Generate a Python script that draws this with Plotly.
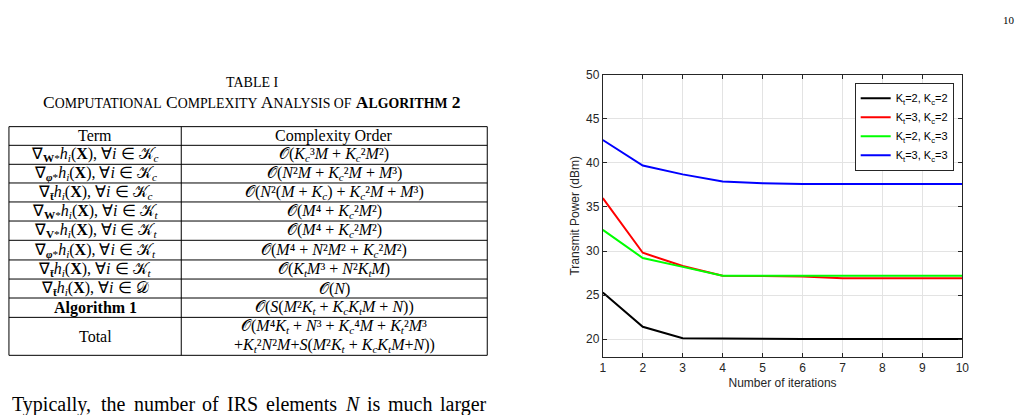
import plotly.graph_objects as go

# ---------------- data ----------------
iterations = [1, 2, 3, 4, 5, 6, 7, 8, 9, 10]
p_kt2_kc2 = [25.3, 21.4, 20.1, 20.1, 20.05, 20.0, 20.0, 20.0, 20.0, 20.0]
p_kt3_kc2 = [36.0, 29.8, 28.3, 27.2, 27.15, 27.1, 26.9, 26.9, 26.9, 26.9]
p_kt2_kc3 = [32.4, 29.2, 28.2, 27.2, 27.2, 27.2, 27.2, 27.2, 27.2, 27.2]
p_kt3_kc3 = [42.6, 39.7, 38.7, 37.9, 37.7, 37.6, 37.6, 37.6, 37.6, 37.6]
series_names = ["K<sub>t</sub>=2, K<sub>c</sub>=2", "K<sub>t</sub>=3, K<sub>c</sub>=2",
                "K<sub>t</sub>=2, K<sub>c</sub>=3", "K<sub>t</sub>=3, K<sub>c</sub>=3"]
series_colors = ["#000000", "#ff0000", "#00ff00", "#0000ff"]
y_ticks = [20, 25, 30, 35, 40, 45, 50]

table_terms = [
    "Term",
    "∇<sub><b>W</b>*</sub><i>h<sub>i</sub></i>(<b>X</b>), ∀<i>i</i> ∈ 𝒦<sub><i>c</i></sub>",
    "∇<sub><b><i>φ</i></b>*</sub><i>h<sub>i</sub></i>(<b>X</b>), ∀<i>i</i> ∈ 𝒦<sub><i>c</i></sub>",
    "∇<sub><b>t̄</b></sub><i>h<sub>i</sub></i>(<b>X</b>), ∀<i>i</i> ∈ 𝒦<sub><i>c</i></sub>",
    "∇<sub><b>W</b>*</sub><i>h<sub>i</sub></i>(<b>X</b>), ∀<i>i</i> ∈ 𝒦<sub><i>t</i></sub>",
    "∇<sub><b>V</b>*</sub><i>h<sub>i</sub></i>(<b>X</b>), ∀<i>i</i> ∈ 𝒦<sub><i>t</i></sub>",
    "∇<sub><b><i>φ</i></b>*</sub><i>h<sub>i</sub></i>(<b>X</b>), ∀<i>i</i> ∈ 𝒦<sub><i>t</i></sub>",
    "∇<sub><b>t̄</b></sub><i>h<sub>i</sub></i>(<b>X</b>), ∀<i>i</i> ∈ 𝒦<sub><i>t</i></sub>",
    "∇<sub><b>t̄</b></sub><i>h<sub>i</sub></i>(<b>X</b>), ∀<i>i</i> ∈ 𝒟",
    "<b>Algorithm 1</b>",
    "Total",
]
table_orders = [
    "Complexity Order",
    "𝒪(<i>K<sub>c</sub></i>³<i>M</i> + <i>K<sub>c</sub></i>²<i>M</i>²)",
    "𝒪(<i>N</i>²<i>M</i> + <i>K<sub>c</sub></i>²<i>M</i> + <i>M</i>³)",
    "𝒪(<i>N</i>²(<i>M</i> + <i>K<sub>c</sub></i>) + <i>K<sub>c</sub></i>²<i>M</i> + <i>M</i>³)",
    "𝒪(<i>M</i>⁴ + <i>K<sub>c</sub></i>²<i>M</i>²)",
    "𝒪(<i>M</i>⁴ + <i>K<sub>c</sub></i>²<i>M</i>²)",
    "𝒪(<i>M</i>⁴ + <i>N</i>²<i>M</i>² + <i>K<sub>c</sub></i>²<i>M</i>²)",
    "𝒪(<i>K<sub>t</sub>M</i>³ + <i>N</i>²<i>K<sub>t</sub>M</i>)",
    "𝒪(<i>N</i>)",
    "𝒪(<i>S</i>(<i>M</i>²<i>K<sub>t</sub></i> + <i>K<sub>c</sub>K<sub>t</sub>M</i> + <i>N</i>))",
    "𝒪(<i>M</i>⁴<i>K<sub>t</sub></i> + <i>N</i>³ + <i>K<sub>c</sub></i>⁴<i>M</i> + <i>K<sub>t</sub></i>²<i>M</i>³"
    "<br>+<i>K<sub>t</sub></i>²<i>N</i>²<i>M</i>+<i>S</i>(<i>M</i>²<i>K<sub>t</sub></i> + <i>K<sub>c</sub>K<sub>t</sub>M</i>+<i>N</i>))",
]
body_words = ["Typically,", "the", "number", "of", "IRS", "elements", "<i>N</i>", "is", "much", "larger"]

W, H = 1031, 415


def px(x):
    return x / W


def py(y):
    return 1 - y / H


fig = go.Figure()
for vals, name, col in zip([p_kt2_kc2, p_kt3_kc2, p_kt2_kc3, p_kt3_kc3], series_names, series_colors):
    fig.add_trace(go.Scatter(x=iterations, y=vals, mode="lines", name=name,
                             line=dict(color=col, width=2)))

axis_col = "#262626"
fig.update_layout(
    width=W, height=H,
    margin=dict(l=0, r=0, t=0, b=0),
    paper_bgcolor="white", plot_bgcolor="white",
    font=dict(family="Liberation Sans, Arial, sans-serif", size=12, color=axis_col),
    xaxis=dict(domain=[px(605.7), px(968.7)], range=[1, 10], tickvals=iterations,
               showgrid=True, gridcolor="#e3e3e3", gridwidth=1,
               showline=True, linecolor=axis_col, linewidth=1, mirror="ticks",
               ticks="inside", ticklen=4, tickcolor=axis_col,
               zeroline=False, tickfont=dict(size=12, color=axis_col),
               title=dict(text="Number of iterations", font=dict(size=12, color=axis_col), standoff=4)),
    yaxis=dict(domain=[py(355.7), py(69)], range=[18, 50], tickvals=y_ticks,
               showgrid=True, gridcolor="#e3e3e3", gridwidth=1,
               showline=True, linecolor=axis_col, linewidth=1, mirror="ticks",
               ticks="inside", ticklen=4, tickcolor=axis_col,
               zeroline=False, tickfont=dict(size=12, color=axis_col),
               title=dict(text="Transmit Power (dBm)", font=dict(size=12, color=axis_col), standoff=3)),
    legend=dict(x=px(960), y=py(77), xanchor="right", yanchor="top",
                bgcolor="white", bordercolor=axis_col, borderwidth=1,
                font=dict(size=11, color="#000000"), itemwidth=30,
                tracegroupgap=0),
    showlegend=True,
)

serif = "Liberation Serif, Times New Roman, serif"


def note(x, y, text, size, xanchor="center", yanchor="middle"):
    fig.add_annotation(x=px(x), y=py(y), xref="paper", yref="paper", text=text,
                       xanchor=xanchor, yanchor=yanchor, showarrow=False,
                       font=dict(family=serif, size=size, color="#000"))


# page number
note(1016, 13, "10", 11)

# table caption
note(251, 76.5, "TABLE I", 14)
sc = '<span style="font-size:13.8px">'
cap = ("C" + sc + "OMPUTATIONAL</span> C" + sc + "OMPLEXITY</span> A" + sc + "NALYSIS OF</span> "
       "<b>A" + sc + "LGORITHM</span> 2</b>")
note(251, 96.5, cap, 17.5)

# table grid
row_lines = [121.7, 140.7, 160, 179, 198.3, 217.7, 237.3, 257.3, 276.7, 296, 315.7, 354.3]
tx0, tx1, tx2 = 6, 180, 489
shapes = []
for yl in row_lines:
    shapes.append(dict(type="line", xref="paper", yref="paper", x0=px(tx0), x1=px(tx2),
                       y0=py(yl), y1=py(yl), line=dict(color="#000", width=1)))
for xl in (tx0, tx1, tx2):
    shapes.append(dict(type="line", xref="paper", yref="paper", x0=px(xl), x1=px(xl),
                       y0=py(row_lines[0]), y1=py(row_lines[-1]), line=dict(color="#000", width=1)))
fig.update_layout(shapes=shapes)

for i, (t, o) in enumerate(zip(table_terms, table_orders)):
    top, bot = row_lines[i], row_lines[i + 1]
    yc = (top + bot) / 2
    note((tx0 + tx1) / 2, yc, t, 16)
    parts = o.split("<br>")
    if len(parts) == 1:
        note((tx1 + tx2) / 2, yc, o, 16)
    else:
        step = (bot - top) / len(parts)
        for k, part in enumerate(parts):
            note((tx1 + tx2) / 2, top + step * (k + 0.5) - 0.5, part, 16)

# body text (justified line, cut off at the bottom of the page image)
word_x = [7, 97.1, 129.9, 199.4, 224.5, 264, 343.5, 365.2, 386.9, 439.7]
for wx, wd in zip(word_x, body_words):
    note(wx, 404, wd, 20, xanchor="left")

fig.write_html("out.html")
